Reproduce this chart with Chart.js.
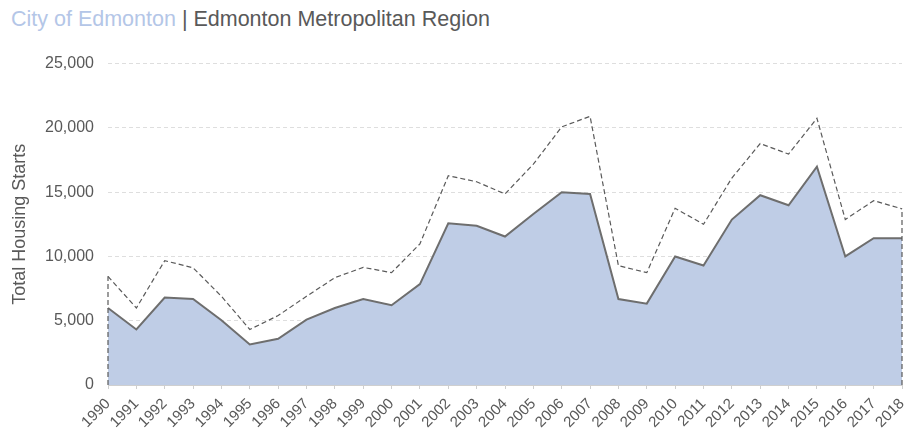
<!DOCTYPE html>
<html>
<head>
<meta charset="utf-8">
<script src="https://cdn.jsdelivr.net/npm/chart.js@4/dist/chart.umd.min.js"></script>
<style>
  body { margin: 0; background: #fff; font-family: "Liberation Sans", Arial, sans-serif; }
  #title { position: absolute; left: 11px; top: 9px; font-size: 21.5px; line-height: 21px; color: #595959; white-space: nowrap; }
  #title .city { color: #b4c6e7; }
  #wrap { position: absolute; left: 0; top: 40px; width: 904px; height: 400px; }
</style>
</head>
<body>
<div id="title"><span class="city">City of Edmonton</span> | Edmonton Metropolitan Region</div>
<div id="wrap"><canvas id="chart" width="904" height="400"></canvas></div>
<script>
// housing starts by year
const years = ["1990","1991","1992","1993","1994","1995","1996","1997","1998","1999",
               "2000","2001","2002","2003","2004","2005","2006","2007","2008","2009",
               "2010","2011","2012","2013","2014","2015","2016","2017","2018"];
const cityStarts = [5990, 4320, 6800, 6690, 5040, 3150, 3590, 5090, 5990, 6690,
                    6200, 7850, 12580, 12380, 11550, 13300, 14990, 14860, 6690, 6330,
                    10000, 9300, 12870, 14760, 13980, 16980, 10000, 11420, 11420];
const metroStarts = [8450, 5990, 9670, 9120, 6900, 4320, 5400, 6900, 8350, 9150,
                     8740, 10980, 16280, 15810, 14860, 17180, 20080, 20900, 9280, 8740,
                     13750, 12500, 16100, 18780, 17960, 20750, 12870, 14340, 13700];
const yTicks = [0, 5000, 10000, 15000, 20000, 25000];

const GREY = "#595959";
const FONT = "'Liberation Sans', Arial, sans-serif";
const METRO_DASH = [5, 3];

// dashed verticals closing the metro outline at both ends
const edgeLines = {
    id: "edgeLines",
    afterDatasetsDraw(chart) {
        const { ctx, scales } = chart;
        const ends = [0, years.length - 1];
        ctx.save();
        ctx.strokeStyle = "#5a5a5a";
        ctx.lineWidth = 1.2;
        ctx.setLineDash(METRO_DASH);
        ends.forEach(i => {
            const x = scales.x.getPixelForValue(i);
            ctx.beginPath();
            ctx.moveTo(x, scales.y.getPixelForValue(0));
            ctx.lineTo(x, scales.y.getPixelForValue(metroStarts[i]));
            ctx.stroke();
        });
        ctx.restore();
    }
};

new Chart(document.getElementById("chart"), {
    type: "line",
    data: {
        labels: years,
        datasets: [
            {
                label: "Edmonton Metropolitan Region",
                data: metroStarts,
                borderColor: "#5a5a5a",
                borderWidth: 1.2,
                borderDash: METRO_DASH,
                fill: false,
                pointRadius: 0,
                tension: 0
            },
            {
                label: "City of Edmonton",
                data: cityStarts,
                borderColor: "#6e6e6e",
                borderWidth: 2,
                backgroundColor: "#bfcde6",
                fill: "origin",
                pointRadius: 0,
                tension: 0
            }
        ]
    },
    options: {
        responsive: false,
        animation: false,
        layout: { padding: { top: 15, right: 2, left: 0, bottom: 0 } },
        plugins: {
            legend: { display: false },
            tooltip: { enabled: false }
        },
        scales: {
            x: {
                offset: false,
                afterFit: s => {
                    s.height = 55;
                    s.paddingLeft = 0;
                    s.paddingRight = 0;
                },
                grid: { drawOnChartArea: false, tickLength: 4, color: "#cfcfcf" },
                border: { display: true, color: "#cfcfcf", dash: [4, 3] },
                ticks: {
                    minRotation: 45, maxRotation: 45, autoSkip: false,
                    color: GREY, padding: 6,
                    font: { family: FONT, size: 15 }
                }
            },
            y: {
                min: 0,
                max: 25000,
                afterFit: s => { s.width = 108; },
                afterBuildTicks: s => { s.ticks = yTicks.map(v => ({ value: v })); },
                grid: { color: "#dedede", tickLength: 0 },
                border: { display: false, dash: [4, 3] },
                ticks: {
                    color: GREY, padding: 14,
                    font: { family: FONT, size: 16 },
                    callback: v => v.toLocaleString("en-US")
                },
                title: {
                    display: true,
                    text: "Total Housing Starts",
                    color: GREY,
                    padding: { top: 9, bottom: 0 },
                    font: { family: FONT, size: 18 }
                }
            }
        }
    },
    plugins: [edgeLines]
});
</script>
</body>
</html>
